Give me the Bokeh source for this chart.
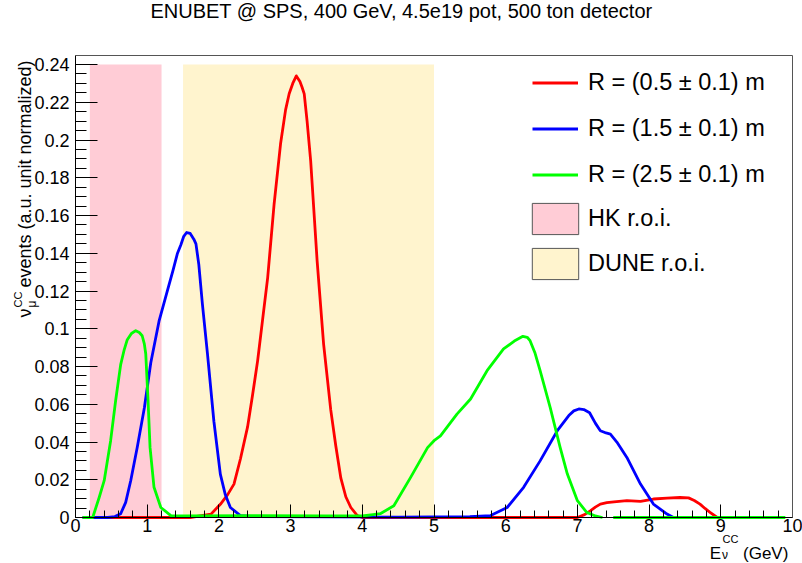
import math

from bokeh.embed import file_html
from bokeh.models import FixedTicker, Label, Legend, LegendItem, LinearAxis, Range1d
from bokeh.plotting import figure
from bokeh.resources import INLINE

NAN = float("nan")

# nu_mu CC spectra (unit normalized) for three radial bins of the tagger
energy_r05 = [0.1, 1.0, 1.6, 1.89, 2.02, 2.12, 2.21, 2.30, 2.40, 2.47, 2.54, 2.61, 2.68, 2.77,
              2.86, 2.93, 2.98, 3.03, 3.08, 3.13, 3.16, 3.19, 3.23, 3.28, 3.37, 3.46, 3.56,
              3.63, 3.70, 3.77, 3.84, 3.93, 4.0, 5.0, 6.0, 7.0, 7.1, 7.18, 7.25, 7.32,
              7.41, 7.51, 7.69, 7.88, 8.06, 8.25, 8.43, 8.55, 8.63, 8.71, 8.78, 8.85, 8.95]
events_r05 = [0.0, 0.0, 0.0, 0.0018, 0.007, 0.012, 0.0177, 0.031, 0.048, 0.065, 0.083, 0.105,
              0.127, 0.166, 0.198, 0.216, 0.2245, 0.230, 0.234, 0.231, 0.228, 0.2245, 0.210,
              0.189, 0.136, 0.092, 0.057, 0.038, 0.021, 0.011, 0.0053, 0.001, 0.0, 0.0, 0.0,
              0.0, 0.0015, 0.0035, 0.0055, 0.0071, 0.0079, 0.0083, 0.0089, 0.0085, 0.0098,
              0.0103, 0.0106, 0.0104, 0.009, 0.0071, 0.0048, 0.0027, 0.0]

energy_r15 = [0.1, 0.45, 0.55, 0.63, 0.70, 0.77, 0.86, 0.96, 1.05, 1.165, 1.28, 1.36, 1.42,
              1.47, 1.51, 1.55, 1.60, 1.65, 1.68, 1.72, 1.77, 1.84, 1.93, 2.02, 2.09, 2.16,
              2.30, 2.5, 3.5, 4.5, 5.5, 5.79, 6.02, 6.25, 6.48, 6.72, 6.88, 6.95, 7.02, 7.09,
              7.17, 7.25, 7.32, 7.40, 7.46, 7.55, 7.69, 7.88, 8.06, 8.25, 8.34]
events_r15 = [0.0, 0.0, 0.0005, 0.002, 0.008, 0.0195, 0.037, 0.058, 0.082, 0.104, 0.120, 0.131,
              0.1397, 0.1445, 0.149, 0.151, 0.1505, 0.1475, 0.145, 0.134, 0.113, 0.087, 0.051,
              0.023, 0.012, 0.0053, 0.001, 0.0005, 0.0003, 0.0002, 0.0005, 0.001, 0.0053, 0.016,
              0.030, 0.046, 0.054, 0.0565, 0.0575, 0.0572, 0.0555, 0.050, 0.046, 0.0448, 0.0442,
              0.040, 0.0318, 0.0177, 0.0071, 0.0018, 0.0]

energy_r25 = [0.1, 0.24, 0.33, 0.40, 0.49, 0.56, 0.63, 0.68, 0.72, 0.78, 0.84, 0.89, 0.93,
              0.96, 0.98, 1.01, 1.04, 1.095, 1.19, 1.33, 1.5, 2.5, 3.5, 4.0, 4.15, 4.25, 4.44,
              4.67, 4.91, 5.0, 5.09, 5.32, 5.51, 5.74, 5.97, 6.12, 6.24, 6.30, 6.34, 6.41,
              6.48, 6.62, 6.76, 6.86, 7.0, 7.13, 7.25, 7.35, NAN, 7.5, 9.9]
events_r25 = [0.0, 0.0, 0.0106, 0.0195, 0.0407, 0.062, 0.081, 0.089, 0.094, 0.0975, 0.099,
              0.098, 0.0963, 0.092, 0.0866, 0.0636, 0.037, 0.016, 0.0053, 0.001, 0.0008, 0.001,
              0.0008, 0.0008, 0.0015, 0.002, 0.0062, 0.021, 0.037, 0.0407, 0.0433, 0.0548,
              0.0628, 0.0778, 0.0893, 0.0935, 0.096, 0.0955, 0.0937, 0.087, 0.0778, 0.0583,
              0.037, 0.023, 0.0089, 0.0027, 0.0008, 0.0, NAN, 0.0, 0.0]

series_labels = ["R = (0.5 ± 0.1) m", "R = (1.5 ± 0.1) m", "R = (2.5 ± 0.1) m"]

# regions of interest of the far detectors
hk_roi = [0.2, 1.2]
dune_roi = [1.5, 5.0]
roi_top = 0.24
roi_labels = ["HK r.o.i.", "DUNE r.o.i."]

x_ticks = [0, 1, 2, 3, 4, 5, 6, 7, 8, 9, 10]
x_tick_labels = ["0", "1", "2", "3", "4", "5", "6", "7", "8", "9", "10"]
y_ticks = [0.0, 0.02, 0.04, 0.06, 0.08, 0.1, 0.12, 0.14, 0.16, 0.18, 0.2, 0.22, 0.24]
y_tick_labels = ["0", "0.02", "0.04", "0.06", "0.08", "0.1", "0.12", "0.14", "0.16",
                 "0.18", "0.2", "0.22", "0.24"]

title_text = "ENUBET @ SPS, 400 GeV, 4.5e19 pot, 500 ton detector"

FONT = "Liberation Sans"
W, H = 802, 563
# pixel box of the histogram frame inside the canvas
FL, FR, FT, FB = 75, 792, 55, 517
X_MAX = 10.0
Y_MAX = 0.2448
# Bokeh's alphabetic anchor sits about a third of an em below the drawn baseline
BASE_SHIFT = 0.33


def dx(px):
    return (px - FL) * X_MAX / (FR - FL)


def dy(py):
    return (FB - py) * Y_MAX / (FB - FT)


# the data area spans the whole canvas; the axes sit at fixed positions inside it
p = figure(width=W, height=H, x_range=Range1d(dx(0), dx(W)), y_range=Range1d(dy(H), dy(0)),
           output_backend="svg", toolbar_location=None, min_border=0,
           min_border_left=0, min_border_right=0, min_border_top=0, min_border_bottom=0)
p.grid.visible = False
p.outline_line_color = None
p.background_fill_color = "white"
p.border_fill_color = "white"

# shaded regions of interest
p.quad(left=[hk_roi[0]], right=[hk_roi[1]], bottom=[0], top=[roi_top],
       fill_color="#ffccd6", line_alpha=0)
p.quad(left=[dune_roi[0]], right=[dune_roi[1]], bottom=[0], top=[roi_top],
       fill_color="#fff4ce", line_alpha=0)

# outlined copies used only for the legend swatches
hk_key = p.quad(left=[hk_roi[0]], right=[hk_roi[1]], bottom=[0], top=[roi_top],
                fill_color="#ffccd6", line_color="#555555", line_width=1)
dune_key = p.quad(left=[dune_roi[0]], right=[dune_roi[1]], bottom=[0], top=[roi_top],
                  fill_color="#fff4ce", line_color="#555555", line_width=1)
hk_key.visible = False
dune_key.visible = False

LW = 2.8
r05 = p.line(energy_r05, events_r05, line_color="#ff0000", line_width=LW, line_join="round")
r15 = p.line(energy_r15, events_r15, line_color="#0000ff", line_width=LW, line_join="round")
r25 = p.line(energy_r25, events_r25, line_color="#00ff00", line_width=LW, line_join="round")

# axes: fixed at the frame edges, ticks pointing into the frame
xaxis = p.xaxis[0]
yaxis = p.yaxis[0]
xaxis.fixed_location = 0
yaxis.fixed_location = 0
xaxis.bounds = (0, X_MAX)
yaxis.bounds = (0, Y_MAX)
for ax, ticks, labels, minor, t_major, t_minor in (
        (xaxis, x_ticks, x_tick_labels, [i * 0.2 for i in range(51)], 13, 7),
        (yaxis, y_ticks, y_tick_labels, [i * 0.005 for i in range(49)], 22, 11)):
    ax.ticker = FixedTicker(ticks=ticks, minor_ticks=minor)
    ax.major_label_overrides = dict(zip(ticks, labels))
    ax.major_tick_in = t_major
    ax.major_tick_out = 0
    ax.minor_tick_in = t_minor
    ax.minor_tick_out = 0
    ax.major_tick_line_color = "black"
    ax.minor_tick_line_color = "black"
    ax.axis_line_color = "black"
    ax.major_label_text_font = FONT
    ax.major_label_text_font_size = "18px"
    ax.major_label_text_color = "black"
xaxis.major_label_standoff = 1
yaxis.major_label_standoff = 6

# closing edges of the frame box
top_edge = LinearAxis(fixed_location=Y_MAX, bounds=(0, X_MAX), ticker=FixedTicker(ticks=[]),
                      axis_line_color="#555555", major_tick_line_color=None,
                      minor_tick_line_color=None)
right_edge = LinearAxis(fixed_location=X_MAX, bounds=(0, Y_MAX), ticker=FixedTicker(ticks=[]),
                        axis_line_color="#555555", major_tick_line_color=None,
                        minor_tick_line_color=None)
p.add_layout(top_edge, "above")
p.add_layout(right_edge, "right")

legend_style = dict(padding=0, margin=0, border_line_alpha=0, background_fill_alpha=0,
                    label_text_font=FONT, label_text_font_size="23.5px",
                    label_text_color="black")
lines_legend = Legend(
    items=[LegendItem(label=series_labels[0], renderers=[r05]),
           LegendItem(label=series_labels[1], renderers=[r15]),
           LegendItem(label=series_labels[2], renderers=[r25])],
    location=(532, 373), glyph_width=46, glyph_height=31, spacing=15, label_standoff=10,
    **legend_style)
roi_legend = Legend(
    items=[LegendItem(label=roi_labels[0], renderers=[hk_key]),
           LegendItem(label=roi_labels[1], renderers=[dune_key])],
    location=(526, 280), glyph_width=58, glyph_height=39, spacing=6, label_standoff=4,
    **legend_style)
p.add_layout(lines_legend)
p.add_layout(roi_legend)


def text(px, py, s, size, rotated=False, align="left"):
    """Place a text whose baseline passes through the canvas pixel (px, py)."""
    shift = BASE_SHIFT * size
    if rotated:
        px -= shift
    else:
        py -= shift
    p.add_layout(Label(x=dx(px), y=dy(py), text=s, angle=math.pi / 2 if rotated else 0.0,
                       text_align=align, text_baseline="alphabetic", text_font=FONT,
                       text_font_size=f"{size}px", text_color="black"))


text(401, 17.5, title_text, 20, align="center")

# x-axis title: E_nu^CC (GeV)
text(709.3, 558.3, "E", 17)
text(722.0, 542.0, "CC", 11)
text(721.5, 558.8, "ν", 12)
text(742.5, 558.3, "(GeV)", 17)

# y-axis title: nu_mu^CC events (a.u. unit normalized)
text(30.5, 317.0, "ν", 18, rotated=True)
text(35.0, 307.0, "μ", 12, rotated=True)
text(21.0, 307.0, "CC", 11, rotated=True)
text(30.5, 287.0, "events (a.u. unit normalized)", 18, rotated=True)

open("out.html", "w").write(file_html(p, INLINE))
